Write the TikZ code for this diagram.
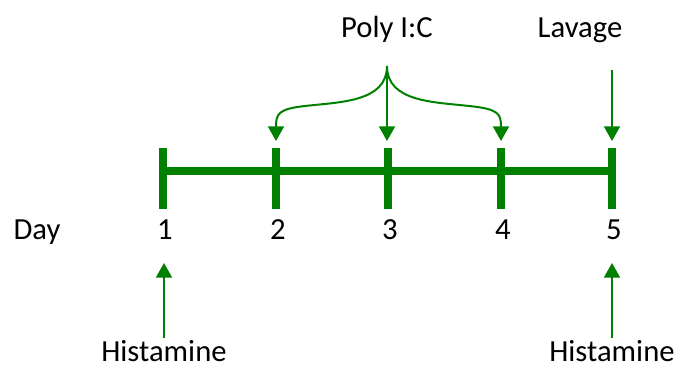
\documentclass[tikz,border=0pt]{standalone}
\usepackage{fontspec}
\setmainfont{Carlito}
\usetikzlibrary{arrows.meta}
\definecolor{tlgreen}{HTML}{008000}
\tikzset{
  timeline/.style={tlgreen, line width=6pt},
  daytick/.style={tlgreen, line width=6pt},
  pointer/.style={tlgreen, line width=1.5pt, -{Triangle[length=11pt,width=12pt]}},
  lbl/.style={font=\fontsize{23}{27}\selectfont, anchor=base, inner sep=0pt}
}

\begin{document}
\begin{tikzpicture}[x=0.75pt,y=-0.75pt]
        \useasboundingbox (0,0) rectangle (680,367);

        % Days on the time line
        \foreach \d/\x in {1/163, 2/276, 3/388, 4/501, 5/612}
        {
            \coordinate (t\d) at (\x,171);
            \draw[daytick] (\x,148) -- (\x,209);
            \node[lbl] (d\d) at (\x+2,239) {\d};
        }
        \draw[timeline] ([xshift=-3pt]t1) -- ([xshift=1pt]t5);
        \node[lbl] (day) at (37,239) {Day};

        % Poly I:C on days 2, 3 and 4
        \node[lbl] (poly) at (387,38) {Poly I:C};
        \coordinate (split) at (387,66);
        \coordinate (p2) at (276,141);
        \coordinate (p3) at (387,141);
        \coordinate (p4) at (501,141);
        \draw[pointer] (split) -- (p3);
        \draw[pointer] (split) .. controls (387,102) and (340,102) .. (305,106)
                               .. controls (278,109) and (276,114) .. (p2);
        \draw[pointer] (split) .. controls (387,102) and (434,102) .. (469,106)
                               .. controls (499,109) and (501,114) .. (p4);

        % Lavage on day 5
        \node[lbl] (lav) at (580,38) {Lavage};
        \coordinate (lavtop) at (612,70);
        \coordinate (lavtip) at (612,141);
        \draw[pointer] (lavtop) -- (lavtip);

        % Histamine on days 1 and 5
        \foreach \d/\x in {1/164, 5/612}
        {
            \node[lbl] (his\d) at (\x,361) {Histamine};
            \coordinate (hbot\d) at (\x,338);
            \coordinate (htip\d) at (\x,263);
            \draw[pointer] (hbot\d) -- (htip\d);
        }
    \end{tikzpicture}
\end{document}
